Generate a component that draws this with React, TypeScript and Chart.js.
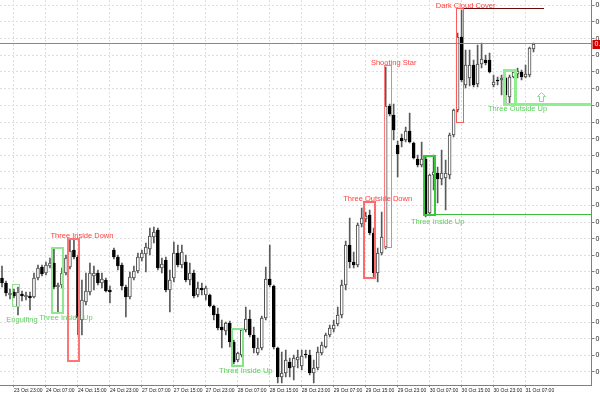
import React, { useEffect, useRef } from 'react';
import { Chart, registerables } from 'chart.js';

Chart.register(...registerables);

// ---- data (hourly candles, 23 Oct 20:00 .. 31 Oct 09:00) ----
const OPEN: number[] = [
  0.78782, 0.78767, 0.78731, 0.78740, 0.78695, 0.78734, 0.78725, 0.78728, 0.78725, 0.78782,
  0.78815, 0.78797, 0.78818, 0.78827, 0.78755, 0.78761, 0.78797, 0.78815, 0.78866, 0.78845,
  0.78656, 0.78710, 0.78740, 0.78788, 0.78797, 0.78767, 0.78776, 0.78746, 0.78866, 0.78845,
  0.78821, 0.78755, 0.78725, 0.78782, 0.78803, 0.78842, 0.78854, 0.78869, 0.78905, 0.78926,
  0.78812, 0.78836, 0.78746, 0.78782, 0.78857, 0.78821, 0.78830, 0.78776, 0.78797, 0.78731,
  0.78752, 0.78731, 0.78731, 0.78698, 0.78674, 0.78635, 0.78623, 0.78647, 0.78590, 0.78536,
  0.78551, 0.78626, 0.78659, 0.78611, 0.78557, 0.78572, 0.78662, 0.78779, 0.78758, 0.78572,
  0.78485, 0.78497, 0.78530, 0.78515, 0.78536, 0.78518, 0.78554, 0.78551, 0.78497, 0.78512,
  0.78557, 0.78575, 0.78611, 0.78629, 0.78644, 0.78671, 0.78761, 0.78881, 0.78830, 0.78821,
  0.78944, 0.78959, 0.78971, 0.78917, 0.78797, 0.78857, 0.78875, 0.79298, 0.79271, 0.79181,
  0.79202, 0.79196, 0.79223, 0.79187, 0.79139, 0.79121, 0.79139, 0.78977, 0.79091, 0.79097,
  0.79079, 0.79082, 0.79091, 0.79211, 0.79286, 0.79505, 0.79361, 0.79382, 0.79421, 0.79364,
  0.79424, 0.79436, 0.79436, 0.79361, 0.79376, 0.79376, 0.79382, 0.79325, 0.79385, 0.79394,
  0.79400, 0.79385, 0.79391, 0.79469,
];
const HIGH: number[] = [
  0.78818, 0.78773, 0.78749, 0.78749, 0.78755, 0.78743, 0.78740, 0.78740, 0.78797, 0.78821,
  0.78821, 0.78830, 0.78842, 0.78872, 0.78767, 0.78812, 0.78851, 0.78896, 0.78899, 0.78851,
  0.78776, 0.78797, 0.78827, 0.78818, 0.78806, 0.78797, 0.78782, 0.78758, 0.78872, 0.78851,
  0.78827, 0.78761, 0.78800, 0.78818, 0.78857, 0.78866, 0.78887, 0.78932, 0.78935, 0.78932,
  0.78842, 0.78845, 0.78806, 0.78890, 0.78881, 0.78881, 0.78851, 0.78827, 0.78806, 0.78770,
  0.78767, 0.78758, 0.78734, 0.78701, 0.78692, 0.78656, 0.78650, 0.78653, 0.78596, 0.78560,
  0.78629, 0.78695, 0.78686, 0.78635, 0.78602, 0.78668, 0.78815, 0.78881, 0.78761, 0.78575,
  0.78560, 0.78566, 0.78542, 0.78551, 0.78566, 0.78566, 0.78566, 0.78566, 0.78536, 0.78575,
  0.78590, 0.78617, 0.78641, 0.78656, 0.78695, 0.78776, 0.78893, 0.78962, 0.78860, 0.78947,
  0.78992, 0.78980, 0.78986, 0.78932, 0.78872, 0.78980, 0.79415, 0.79304, 0.79304, 0.79193,
  0.79214, 0.79235, 0.79277, 0.79190, 0.79151, 0.79190, 0.79145, 0.79094, 0.79151, 0.79115,
  0.79166, 0.79136, 0.79217, 0.79289, 0.79517, 0.79586, 0.79466, 0.79466, 0.79436, 0.79481,
  0.79487, 0.79451, 0.79457, 0.79391, 0.79385, 0.79391, 0.79385, 0.79391, 0.79403, 0.79412,
  0.79406, 0.79421, 0.79475, 0.79487,
];
const LOW: number[] = [
  0.78755, 0.78728, 0.78719, 0.78722, 0.78671, 0.78713, 0.78716, 0.78686, 0.78722, 0.78776,
  0.78788, 0.78791, 0.78812, 0.78749, 0.78677, 0.78752, 0.78791, 0.78809, 0.78839, 0.78611,
  0.78611, 0.78701, 0.78731, 0.78746, 0.78761, 0.78752, 0.78740, 0.78707, 0.78839, 0.78806,
  0.78746, 0.78665, 0.78719, 0.78776, 0.78797, 0.78833, 0.78800, 0.78851, 0.78887, 0.78806,
  0.78797, 0.78740, 0.78680, 0.78770, 0.78815, 0.78812, 0.78770, 0.78761, 0.78722, 0.78725,
  0.78731, 0.78716, 0.78695, 0.78656, 0.78626, 0.78572, 0.78611, 0.78575, 0.78524, 0.78530,
  0.78545, 0.78620, 0.78605, 0.78557, 0.78551, 0.78566, 0.78656, 0.78755, 0.78569, 0.78467,
  0.78467, 0.78485, 0.78485, 0.78476, 0.78512, 0.78506, 0.78542, 0.78491, 0.78467, 0.78506,
  0.78551, 0.78572, 0.78605, 0.78620, 0.78638, 0.78662, 0.78746, 0.78812, 0.78812, 0.78815,
  0.78935, 0.78950, 0.78911, 0.78782, 0.78770, 0.78851, 0.78869, 0.79268, 0.79196, 0.79085,
  0.79175, 0.79190, 0.79187, 0.79139, 0.79115, 0.79115, 0.78965, 0.78974, 0.79046, 0.79007,
  0.79061, 0.78986, 0.79079, 0.79205, 0.79280, 0.79370, 0.79352, 0.79358, 0.79355, 0.79355,
  0.79412, 0.79421, 0.79397, 0.79355, 0.79361, 0.79331, 0.79307, 0.79307, 0.79382, 0.79382,
  0.79376, 0.79382, 0.79385, 0.79460,
];
const CLOSE: number[] = [
  0.78767, 0.78737, 0.78737, 0.78728, 0.78740, 0.78728, 0.78731, 0.78722, 0.78782, 0.78812,
  0.78794, 0.78821, 0.78827, 0.78755, 0.78761, 0.78797, 0.78842, 0.78863, 0.78845, 0.78662,
  0.78716, 0.78743, 0.78797, 0.78797, 0.78767, 0.78779, 0.78743, 0.78740, 0.78845, 0.78818,
  0.78758, 0.78725, 0.78785, 0.78803, 0.78845, 0.78857, 0.78875, 0.78908, 0.78920, 0.78812,
  0.78824, 0.78746, 0.78776, 0.78857, 0.78821, 0.78860, 0.78776, 0.78797, 0.78728, 0.78752,
  0.78746, 0.78752, 0.78698, 0.78671, 0.78632, 0.78626, 0.78647, 0.78590, 0.78530, 0.78557,
  0.78626, 0.78659, 0.78611, 0.78572, 0.78572, 0.78662, 0.78779, 0.78761, 0.78575, 0.78485,
  0.78497, 0.78536, 0.78512, 0.78542, 0.78545, 0.78548, 0.78551, 0.78497, 0.78512, 0.78560,
  0.78581, 0.78611, 0.78632, 0.78641, 0.78671, 0.78761, 0.78881, 0.78830, 0.78821, 0.78941,
  0.78962, 0.78968, 0.78917, 0.78797, 0.78857, 0.78905, 0.79298, 0.79274, 0.79226, 0.79154,
  0.79193, 0.79223, 0.79190, 0.79142, 0.79121, 0.79139, 0.78971, 0.79091, 0.79100, 0.79079,
  0.79097, 0.79097, 0.79211, 0.79286, 0.79505, 0.79376, 0.79421, 0.79421, 0.79361, 0.79424,
  0.79439, 0.79427, 0.79400, 0.79370, 0.79373, 0.79382, 0.79331, 0.79385, 0.79400, 0.79403,
  0.79385, 0.79394, 0.79472, 0.79484,
];

// time axis labels (every 8th hourly bar, first one at bar 3)
const TICK_LABELS: string[] = [
  '23 Oct 23:00', '24 Oct 07:00', '24 Oct 15:00', '24 Oct 23:00', '27 Oct 07:00',
  '27 Oct 15:00', '27 Oct 23:00', '28 Oct 07:00', '28 Oct 15:00', '28 Oct 23:00',
  '29 Oct 07:00', '29 Oct 15:00', '29 Oct 23:00', '30 Oct 07:00', '30 Oct 15:00',
  '30 Oct 23:00', '31 Oct 07:00',
];

// y axis range and grid step
const Y_MIN = 0.78461;
const Y_MAX = 0.79616;
const Y_STEP = 0.0005;

// candlestick patterns: bar range and price box
const PATTERN_NAMES: string[] = [
  'Engulfing', 'Three Inside Up', 'Three Inside Down', 'Three Inside Up', 'Three Outside Down',
  'Shooting Star', 'Three Inside Up', 'Dark Cloud Cover', 'Three Outside Up',
];
const PATTERN_FROM: number[] = [3, 13, 17, 58, 91, 96, 106, 114, 126];
const PATTERN_TO: number[] = [4, 15, 19, 60, 93, 97, 108, 115, 128];
const PATTERN_HIGH: number[] = [0.78764, 0.78872, 0.78899, 0.78629, 0.79010, 0.79418, 0.79148, 0.79589, 0.79403];
const PATTERN_LOW: number[] = [0.78698, 0.78677, 0.78533, 0.78518, 0.78782, 0.78875, 0.78971, 0.79250, 0.79304];
const PATTERN_BULLISH: boolean[] = [true, true, false, true, false, false, true, false, true];

// horizontal level lines (from bar, to bar (-1 = right edge), price)
const LEVEL_FROM: number[] = [114, 106, 126];
const LEVEL_TO: number[] = [135.5, -1, -1];
const LEVEL_PRICE: number[] = [0.79589, 0.78971, 0.79304];

// arrow marker
const ARROW_BAR = 135;
const ARROW_PRICE = 0.79313;

const EMPTY_BARS = 14;

// ---- styles ----
const PATTERN_COLOR: string[] = ['#90e090', '#8fe88f', '#ff7575', '#86e486', '#ff6a6a', '#ff7a7a', '#3cc83c', '#ff5a5a', '#90ee90'];
const PATTERN_WIDTH: number[] = [1, 2, 2, 2, 2, 1, 2, 1, 3];
const LEVEL_COLOR: string[] = ['#6a0a0a', '#3cbc3c', '#90ee90'];
const LEVEL_WIDTH: number[] = [1, 1, 3];
const BULL_TEXT = '#5ccf5c';
const BEAR_TEXT = '#ff4040';
const FONT = '"Liberation Sans", Arial, sans-serif';

const crisp = (v: number, w: number) => (Math.round(w) % 2 === 1 ? Math.floor(v) + 0.5 : Math.round(v));

export default function App() {
  const canvasRef = useRef<HTMLCanvasElement | null>(null);

  useEffect(() => {
    const canvas = canvasRef.current;
    if (!canvas) return;
    const n = OPEN.length;
    const total = n + EMPTY_BARS;
    const labels = Array.from({ length: total }, (_, i) => String(i));
    const up = (i: number) => CLOSE[i] >= OPEN[i];
    const bodies = OPEN.map((o, i) => [Math.min(o, CLOSE[i]), Math.max(o, CLOSE[i])]);
    const wicks = LOW.map((l, i) => [l, HIGH[i]]);
    const isTick = (idx: number) => idx >= 3 && (idx - 3) % 8 === 0 && (idx - 3) / 8 < TICK_LABELS.length;

    const overlay = {
      id: 'overlay',
      afterDatasetsDraw(chart: any) {
        const { ctx, chartArea: a, scales } = chart;
        const xs = scales.x;
        const ys = scales.y;
        const px = (i: number) => xs.getPixelForValue(i);
        const py = (p: number) => ys.getPixelForValue(p);
        ctx.save();
        ctx.beginPath();
        ctx.rect(a.left, a.top, a.right - a.left, a.bottom - a.top);
        ctx.clip();

        // bid line
        const bid = CLOSE[n - 1];
        const yb = crisp(py(bid), 1);
        ctx.strokeStyle = '#f05a5a';
        ctx.lineWidth = 1;
        ctx.beginPath();
        ctx.moveTo(a.left, yb);
        ctx.lineTo(a.right, yb);
        ctx.stroke();

        // levels
        LEVEL_PRICE.forEach((p, k) => {
          const w = LEVEL_WIDTH[k];
          const y = crisp(py(p), w);
          const x1 = Math.round(px(LEVEL_FROM[k]) - 1.5);
          const x2 = LEVEL_TO[k] < 0 ? a.right : Math.round(px(LEVEL_TO[k]));
          ctx.strokeStyle = LEVEL_COLOR[k];
          ctx.lineWidth = w;
          ctx.beginPath();
          ctx.moveTo(x1, y);
          ctx.lineTo(x2, y);
          ctx.stroke();
        });

        // pattern boxes + labels
        ctx.font = `7.5px ${FONT}`;
        PATTERN_NAMES.forEach((name, k) => {
          const w = PATTERN_WIDTH[k];
          const x1 = crisp(px(PATTERN_FROM[k]) - 1.5, w);
          const x2 = crisp(px(PATTERN_TO[k]) + 1.5, w);
          const y1 = crisp(py(PATTERN_HIGH[k]), w);
          const y2 = crisp(py(PATTERN_LOW[k]), w);
          ctx.strokeStyle = PATTERN_COLOR[k];
          ctx.lineWidth = w;
          ctx.strokeRect(x1, y1, x2 - x1, y2 - y1);

          let lo = -Infinity;
          let hi = Infinity;
          for (let i = PATTERN_FROM[k]; i <= PATTERN_TO[k]; i++) {
            lo = Math.max(lo, py(LOW[i]));
            hi = Math.min(hi, py(HIGH[i]));
          }
          const cx = px(PATTERN_TO[k] + 1);
          ctx.textAlign = 'center';
          if (PATTERN_BULLISH[k]) {
            ctx.fillStyle = BULL_TEXT;
            ctx.textBaseline = 'top';
            ctx.fillText(name, cx, Math.max(lo, y2) + 1);
          } else {
            ctx.fillStyle = BEAR_TEXT;
            ctx.textBaseline = 'bottom';
            ctx.fillText(name, cx, Math.min(hi, y1) + 1);
          }
        });

        // arrow
        const ax = crisp(px(ARROW_BAR), 1);
        const ay = Math.round(py(ARROW_PRICE)) + 0.5;
        ctx.strokeStyle = '#7fe07f';
        ctx.lineWidth = 1;
        ctx.beginPath();
        ctx.moveTo(ax, ay - 9);
        ctx.lineTo(ax + 4, ay - 5);
        ctx.lineTo(ax + 2, ay - 5);
        ctx.lineTo(ax + 2, ay);
        ctx.lineTo(ax - 2, ay);
        ctx.lineTo(ax - 2, ay - 5);
        ctx.lineTo(ax - 4, ay - 5);
        ctx.closePath();
        ctx.stroke();
        ctx.restore();
      },
      afterDraw(chart: any) {
        const { ctx, chartArea: a, scales, width } = chart;
        const bid = CLOSE[n - 1];
        const yb = Math.round(scales.y.getPixelForValue(bid));
        ctx.save();
        ctx.fillStyle = '#d00000';
        ctx.fillRect(a.right + 1, yb - 4, width - a.right - 1, 9);
        ctx.fillStyle = '#ffffff';
        ctx.font = `7px ${FONT}`;
        ctx.textAlign = 'left';
        ctx.textBaseline = 'middle';
        ctx.fillText(bid.toFixed(5), a.right + 3, yb + 0.5);
        ctx.restore();
      },
    };

    const chart = new Chart(canvas, {
      type: 'bar',
      data: {
        labels,
        datasets: [
          {
            label: 'body',
            data: bodies as any,
            order: 0,
            grouped: false,
            barThickness: 3,
            borderWidth: 1,
            borderSkipped: false,
            backgroundColor: (c: any) => (up(c.dataIndex) ? '#ffffff' : '#000000'),
            borderColor: (c: any) => (up(c.dataIndex) ? '#4a4a4a' : '#000000'),
          } as any,
          {
            label: 'wick',
            data: wicks as any,
            order: 1,
            grouped: false,
            barThickness: 1,
            borderWidth: 0,
            backgroundColor: '#5a5a5a',
          } as any,
        ],
      },
      options: {
        animation: false,
        responsive: false,
        devicePixelRatio: 1,
        layout: { padding: { left: -0.5, top: 0, right: 0, bottom: 0 } },
        plugins: { legend: { display: false }, tooltip: { enabled: false } },
        scales: {
          x: {
            type: 'category',
            offset: true,
            afterFit: (s: any) => {
              s.height = 15;
              s.paddingLeft = 0;
              s.paddingRight = 0;
            },
            grid: {
              offset: false,
              drawTicks: true,
              tickLength: 2,
              color: (c: any) => (isTick(c.index) ? '#dedede' : 'rgba(0,0,0,0)'),
              tickColor: (c: any) => (isTick(c.index) ? '#808080' : 'rgba(0,0,0,0)'),
              tickBorderDash: [],
            } as any,
            border: { color: '#808080', dash: [2, 2] } as any,
            ticks: {
              autoSkip: false,
              maxRotation: 0,
              minRotation: 0,
              align: 'start',
              padding: 1,
              color: '#202020',
              font: { family: FONT, size: 5 },
              callback: (_v: any, idx: number) => (isTick(idx) ? TICK_LABELS[(idx - 3) / 8] : ''),
            } as any,
          },
          y: {
            type: 'linear',
            position: 'right',
            min: Y_MIN,
            max: Y_MAX,
            afterFit: (s: any) => {
              s.width = 48.5;
              s.paddingTop = 0;
              s.paddingBottom = 0;
            },
            grid: {
              color: '#dedede',
              drawTicks: true,
              tickLength: 3,
              tickColor: '#808080',
              tickBorderDash: [],
            } as any,
            border: { color: '#808080', dash: [2, 2] } as any,
            ticks: {
              stepSize: Y_STEP,
              includeBounds: false,
              padding: 1,
              color: '#202020',
              font: { family: FONT, size: 7 },
              callback: (v: any) => Number(v).toFixed(5),
            } as any,
          },
        },
      } as any,
      plugins: [overlay],
    });
    return () => chart.destroy();
  }, []);

  return (
    <div style={{ position: 'fixed', left: 0, top: 0, width: 600, height: 400, overflow: 'hidden', background: '#ffffff' }}>
      <canvas ref={canvasRef} width={640} height={400} style={{ display: 'block', width: 640, height: 400 }} />
    </div>
  );
}
